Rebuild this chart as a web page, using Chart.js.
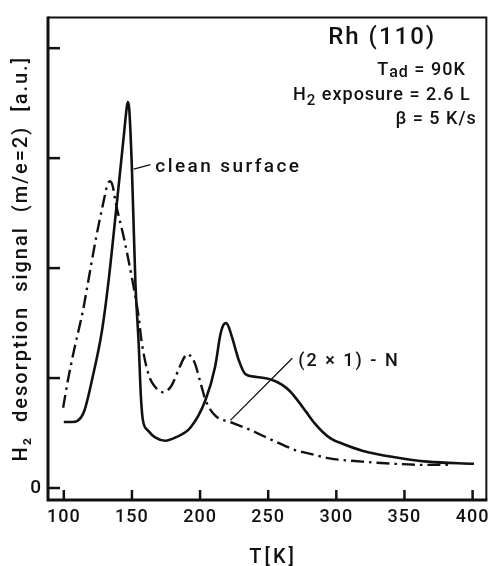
<!DOCTYPE html>
<html>
<head>
<meta charset="utf-8">
<script src="https://cdn.jsdelivr.net/npm/chart.js@4.4.1/dist/chart.umd.min.js"></script>
<style>
  html, body { margin: 0; padding: 0; background: #fff; }
  #wrap { width: 495px; height: 566px; }
</style>
</head>
<body>
<div id="wrap"><canvas id="tdsChart"></canvas></div>
<script>
// Clean surface TDS trace (temperature K, signal a.u.)
const cleanT = [100, 106, 110, 115, 121, 128, 133, 139, 144, 146.3, 147, 148, 150, 152.5, 155, 156.5, 158, 162, 167, 174.5, 182, 193, 204, 211, 215, 217.5, 219, 220.5, 223.5, 228.5, 233, 241.6, 252.5, 260, 266, 272, 278, 284, 290, 296, 305, 319, 343, 367, 401];
const cleanSignal = [0.60, 0.60, 0.61, 0.70, 1.00, 1.43, 1.90, 2.60, 3.20, 3.47, 3.51, 3.45, 2.90, 1.88, 1.30, 0.85, 0.62, 0.52, 0.46, 0.43, 0.46, 0.55, 0.80, 1.10, 1.40, 1.49, 1.50, 1.48, 1.37, 1.16, 1.04, 1.01, 0.985, 0.94, 0.88, 0.79, 0.69, 0.59, 0.51, 0.45, 0.40, 0.34, 0.28, 0.24, 0.22];

// (2x1)-N covered surface trace
const nitrideT = [99.5, 103, 108, 114, 117.5, 123.6, 129.6, 132, 134, 136, 138, 144, 150, 155, 157, 162, 167, 173, 179, 185, 189, 191, 193, 196, 200.5, 204, 211, 222, 234.5, 254, 271, 278, 295, 319, 343, 367, 385];
const nitrideSignal = [0.73, 0.98, 1.28, 1.61, 1.85, 2.27, 2.63, 2.76, 2.79, 2.74, 2.60, 2.28, 1.91, 1.55, 1.34, 1.04, 0.92, 0.87, 0.93, 1.10, 1.20, 1.22, 1.20, 1.14, 0.95, 0.80, 0.66, 0.60, 0.54, 0.43, 0.34, 0.32, 0.27, 0.24, 0.22, 0.21, 0.21];

const xTicks = [100, 150, 200, 250, 300, 350, 400];
const yTicks = [0, 1, 2, 3, 4];
const yTickLabels = ['0', '', '', '', ''];

const FONT = 'Roboto';
const INK = '#111';

function toPoints(xs, ys) {
    return xs.map((x, i) => ({ x: x, y: ys[i] }));
}

// text with subscript pieces, right aligned at x
function drawRich(ctx, parts, xRight, y) {
    let total = 0;
    parts.forEach(p => {
        ctx.font = '500 ' + p.size + 'px ' + FONT;
        p.w = ctx.measureText(p.t).width;
        total += p.w;
    });
    let x = xRight - total;
    parts.forEach(p => {
        ctx.font = '500 ' + p.size + 'px ' + FONT;
        ctx.fillText(p.t, x, y + (p.dy || 0));
        x += p.w;
    });
}

// frame, inward ticks, axis titles, annotations
const framePlugin = {
    id: 'frame',
    beforeDraw(chart) {
        chart.ctx.letterSpacing = '1px';
    },
    afterDraw(chart) {
        const { ctx, chartArea: a, scales } = chart;
        const xs = scales.x, ys = scales.y;
        ctx.save();
        ctx.strokeStyle = INK;
        ctx.lineCap = 'butt';

        // box
        ctx.lineWidth = 2;
        ctx.beginPath();
        ctx.moveTo(a.left, a.top);
        ctx.lineTo(a.right, a.top);
        ctx.lineTo(a.right, a.bottom);
        ctx.stroke();
        ctx.lineWidth = 3;
        ctx.beginPath();
        ctx.moveTo(a.left, a.top - 1);
        ctx.lineTo(a.left, a.bottom);
        ctx.lineTo(a.right + 1, a.bottom);
        ctx.stroke();

        // ticks pointing inward
        ctx.lineWidth = 2.5;
        xTicks.forEach(v => {
            const px = xs.getPixelForValue(v);
            ctx.beginPath();
            ctx.moveTo(px, a.bottom);
            ctx.lineTo(px, a.bottom - 10);
            ctx.stroke();
        });
        yTicks.forEach(v => {
            const py = ys.getPixelForValue(v);
            ctx.beginPath();
            ctx.moveTo(a.left, py);
            ctx.lineTo(a.left + 12, py);
            ctx.stroke();
        });

        // leader lines
        ctx.lineWidth = 1.3;
        ctx.beginPath();
        ctx.moveTo(xs.getPixelForValue(151.3), ys.getPixelForValue(2.90));
        ctx.lineTo(xs.getPixelForValue(163.6), ys.getPixelForValue(2.94));
        ctx.moveTo(xs.getPixelForValue(267.7), ys.getPixelForValue(1.18));
        ctx.lineTo(xs.getPixelForValue(222.2), ys.getPixelForValue(0.615));
        ctx.stroke();

        ctx.fillStyle = INK;

        // axis titles
        ctx.textAlign = 'center';
        ctx.textBaseline = 'middle';
        ctx.letterSpacing = '3px';
        ctx.font = '500 20px ' + FONT;
        ctx.fillText('T[K]', (a.left + a.right) / 2 + 6, 558);
        ctx.save();
        ctx.translate(22, (a.top + a.bottom) / 2);
        ctx.rotate(-Math.PI / 2);
        ctx.letterSpacing = '2px';
        ctx.fillText('H\u2082  desorption  signal  (m/e=2)  [a.u.]', 0, 0);
        ctx.restore();

        // labels
        ctx.textBaseline = 'alphabetic';
        ctx.textAlign = 'left';
        ctx.letterSpacing = '2.4px';
        ctx.font = '500 19px ' + FONT;
        ctx.fillText('clean surface', xs.getPixelForValue(167.2), ys.getPixelForValue(2.878));
        ctx.letterSpacing = '2px';
        ctx.font = '500 18px ' + FONT;
        ctx.fillText('(2 \u00d7 1) - N', xs.getPixelForValue(272.1), ys.getPixelForValue(1.113));

        ctx.letterSpacing = '2px';
        drawRich(ctx, [{ t: 'Rh (110)', size: 24 }], xs.getPixelForValue(373.3), ys.getPixelForValue(4.036));
        ctx.letterSpacing = '1px';
        drawRich(ctx, [{ t: 'T', size: 18 }, { t: 'ad', size: 16, dy: 2 }, { t: ' = 90K', size: 18 }],
            xs.getPixelForValue(395), ys.getPixelForValue(3.756));
        drawRich(ctx, [{ t: 'H', size: 18 }, { t: '2', size: 15, dy: 5 }, { t: ' exposure = 2.6 L', size: 18 }],
            xs.getPixelForValue(398.6), ys.getPixelForValue(3.53));
        drawRich(ctx, [{ t: '\u03b2 = 5 K/s', size: 18 }], xs.getPixelForValue(403), ys.getPixelForValue(3.312));
        ctx.restore();
    }
};

const tdsData = {
    datasets: [
        {
            label: 'clean surface',
            data: toPoints(cleanT, cleanSignal),
            borderColor: INK,
            borderWidth: 2.6,
            pointRadius: 0,
            showLine: true,
            cubicInterpolationMode: 'monotone'
        },
        {
            label: '(2x1)-N',
            data: toPoints(nitrideT, nitrideSignal),
            borderColor: INK,
            borderWidth: 2.4,
            borderDash: [13, 5, 2.5, 5],
            pointRadius: 0,
            showLine: true,
            cubicInterpolationMode: 'monotone'
        }
    ]
};

const tdsConfig = {
    type: 'scatter',
    data: tdsData,
    plugins: [framePlugin],
    options: {
        responsive: true,
        maintainAspectRatio: false,
        animation: false,
        layout: { padding: { top: 15, right: 2, left: 0, bottom: 0 } },
        plugins: { legend: { display: false }, tooltip: { enabled: false } },
        scales: {
            x: {
                type: 'linear',
                min: 88.4,
                max: 410.1,
                afterFit: s => { s.height = 66; },
                afterBuildTicks: s => { s.ticks = xTicks.map(v => ({ value: v })); },
                grid: { display: false, drawTicks: false },
                border: { display: false },
                ticks: {
                    padding: 7,
                    color: INK,
                    font: { family: FONT, size: 18, weight: '500' },
                    maxRotation: 0,
                    callback: v => String(v)
                }
            },
            y: {
                type: 'linear',
                min: -0.109,
                max: 4.28,
                afterFit: s => { s.width = 48; },
                afterBuildTicks: s => { s.ticks = yTicks.map(v => ({ value: v })); },
                grid: { display: false, drawTicks: false },
                border: { display: false },
                ticks: {
                    padding: 6,
                    color: INK,
                    font: { family: FONT, size: 19, weight: '500' },
                    callback: (v, i) => yTickLabels[i]
                }
            }
        }
    }
};

const tdsCtx = document.getElementById('tdsChart').getContext('2d');
new Chart(tdsCtx, tdsConfig);
</script>
</body>
</html>
